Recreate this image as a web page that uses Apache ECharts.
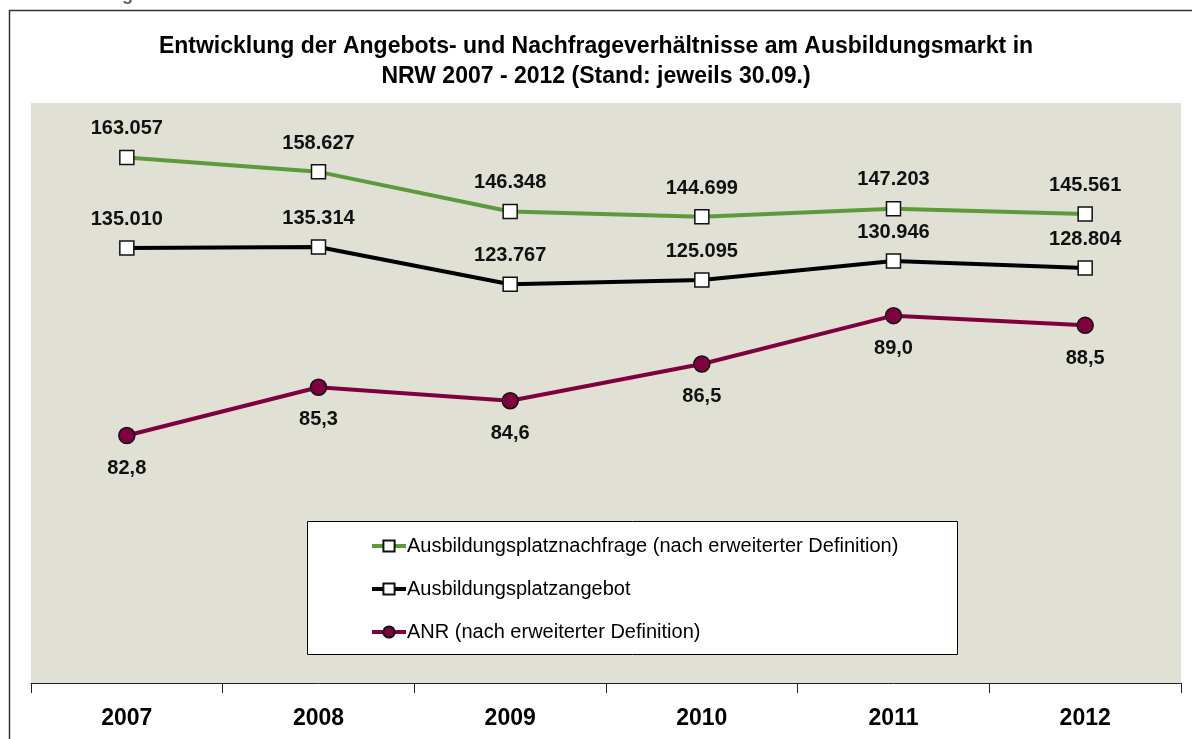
<!DOCTYPE html>
<html><head><meta charset="utf-8">
<script src="https://cdn.jsdelivr.net/npm/echarts@6/dist/echarts.min.js"></script>
<style>html,body{margin:0;padding:0;background:#fff}#c{width:1192px;height:739px}</style>
</head><body><div id="c"></div>
<script>
const years = ['2007','2008','2009','2010','2011','2012'];
const nachfrage = [163057,158627,146348,144699,147203,145561];
const angebot = [135010,135314,123767,125095,130946,128804];
const anr = [82.8,85.3,84.6,86.5,89.0,88.5];
const names = ['Ausbildungsplatznachfrage (nach erweiterter Definition)','Ausbildungsplatzangebot','ANR (nach erweiterter Definition)'];
const titleText = 'Entwicklung der Angebots- und Nachfrageverhältnisse am Ausbildungsmarkt in\nNRW 2007 - 2012 (Stand: jeweils 30.09.)';

const FONT = 'Liberation Sans, Arial, sans-serif';
const fmtInt = v => String(v).replace(/\B(?=(\d{3})+(?!\d))/g, '.');
const fmtDec = v => v.toFixed(1).replace('.', ',');

const chart = echarts.init(document.getElementById('c'), null, {renderer:'canvas'});
const labelBase = {show:true, fontFamily:FONT, fontWeight:'bold', fontSize:20, color:'#111'};
chart.setOption({
  animation:false,
  backgroundColor:'#fff',
  title:{text:titleText, left:'center', top:27, textStyle:{fontFamily:FONT, fontWeight:'bold', fontSize:23, lineHeight:30, color:'#000'}},
  grid:{left:31, right:11, top:103, bottom:56, show:true, backgroundColor:'#E0E1D4', borderWidth:0},
  legend:{
    orient:'vertical', left:370, top:536, width:586, z:5,
    padding:[0,0,0,0], itemGap:23, itemWidth:34, itemHeight:14,
    lineStyle:{width:4},
    textStyle:{fontFamily:FONT, fontSize:20, color:'#000', padding:[0,0,0,-4]},
    data:names
  },
  xAxis:{type:'category', data:years, boundaryGap:true,
    axisLine:{lineStyle:{color:'#222', width:1}},
    axisTick:{show:true, length:10, lineStyle:{color:'#222'}},
    axisLabel:{fontFamily:FONT, fontWeight:'bold', fontSize:23, color:'#000', margin:24}},
  yAxis:[
    {type:'value', min:0, max:180000, show:false, splitLine:{show:false}},
    {type:'value', min:70, max:100, show:false, splitLine:{show:false}}
  ],
  graphic:[
    {type:'rect', z:4, shape:{x:307.5, y:521.5, width:650, height:133}, style:{fill:'#fff', stroke:'#000', lineWidth:1}},
    {type:'rect', z:100, shape:{x:9.5, y:10.5, width:1300, height:900}, style:{fill:'none', stroke:'#333', lineWidth:1.5}},
    {type:'text', z:100, left:122, top:-14, style:{text:'g', font:'bold 18px '+FONT, fill:'#4d6b4d'}}
  ],
  series:[
    {name:names[0], type:'line', data:nachfrage, yAxisIndex:0,
     lineStyle:{color:'#5E9A3C', width:4}, itemStyle:{color:'#fff', borderColor:'#111', borderWidth:1.5},
     symbol:'rect', symbolSize:14, z:3,
     label:Object.assign({position:'top', distance:11, formatter:p=>fmtInt(p.value)}, labelBase)},
    {name:names[1], type:'line', data:angebot, yAxisIndex:0,
     lineStyle:{color:'#000', width:4}, itemStyle:{color:'#fff', borderColor:'#111', borderWidth:1.5},
     symbol:'rect', symbolSize:14, z:3,
     label:Object.assign({position:'top', distance:11, formatter:p=>fmtInt(p.value)}, labelBase)},
    {name:names[2], type:'line', data:anr, yAxisIndex:1,
     lineStyle:{color:'#80003F', width:4}, itemStyle:{color:'#80003F', borderColor:'#111', borderWidth:1.5},
     symbol:'circle', symbolSize:16, z:3,
     label:Object.assign({position:'bottom', distance:14, formatter:p=>fmtDec(p.value)}, labelBase)}
  ]
});
</script></body></html>
